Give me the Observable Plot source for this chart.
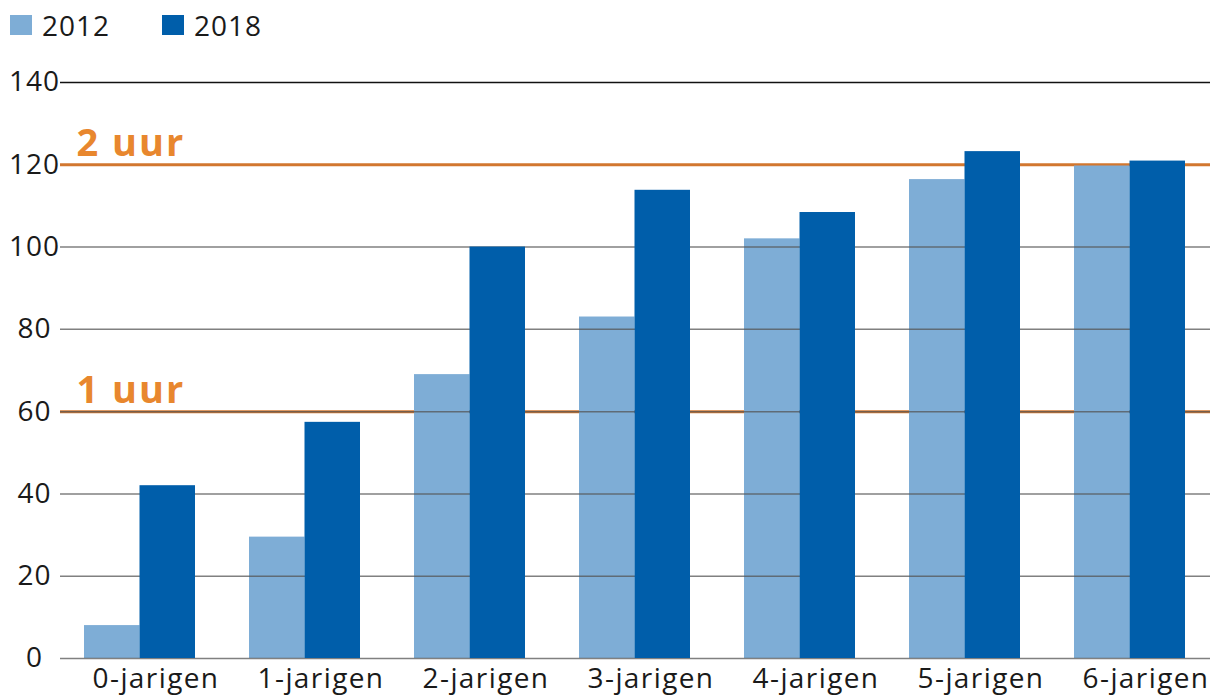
<!DOCTYPE html>
<html>
<head>
<meta charset="utf-8">
<script src="https://cdn.jsdelivr.net/npm/d3@7"></script>
<script src="https://cdn.jsdelivr.net/npm/@observablehq/plot@0.6"></script>
<style>
  html, body { margin: 0; padding: 0; background: #fff; }
  body { width: 1210px; height: 699px; overflow: hidden; font-family: "Open Sans", sans-serif; }
  #legend { height: 50px; display: flex; align-items: center; font-size: 28px; color: #1a1a1a; letter-spacing: 1px; }
  .item { display: flex; align-items: center; }
  .sw { width: 22px; height: 20px; display: inline-block; }
  svg { display: block; }
  #chart g[aria-label="x-axis tick label"] text { letter-spacing: 1.4px; }
  #chart g.reflabel text { letter-spacing: 2px; }
  #chart g.ylab text { letter-spacing: 1px; }
</style>
</head>
<body>
<div id="legend"></div>
<div id="chart"></div>
<script>
const categories = ["0-jarigen", "1-jarigen", "2-jarigen", "3-jarigen", "4-jarigen", "5-jarigen", "6-jarigen"];
const values2012 = [8, 29.5, 69, 83, 102, 116.4, 119.7];
const values2018 = [42, 57.4, 100, 113.8, 108.4, 123.2, 120.9];
const years = ["2012", "2018"];
const colors = ["#7eadd6", "#005eaa"];
const yTicks = [0, 20, 40, 60, 80, 100, 120, 140];
const refValues = [120, 60];
const refLabels = ["2 uur", "1 uur"];

const data2012 = categories.map((c, i) => ({cat: c, value: values2012[i]}));
const data2018 = categories.map((c, i) => ({cat: c, value: values2018[i]}));
const refs = refValues.map((v, i) => ({v, label: refLabels[i]}));

// legend
const legend = document.getElementById("legend");
years.forEach((y, i) => {
  const it = document.createElement("div");
  it.className = "item";
  it.style.marginLeft = i === 0 ? "10px" : "52px";
  const sw = document.createElement("span");
  sw.className = "sw";
  sw.style.background = colors[i];
  const t = document.createElement("span");
  t.textContent = y;
  t.style.marginLeft = "10px";
  it.appendChild(sw); it.appendChild(t);
  legend.appendChild(it);
});

const half = 55.5;
const chart = Plot.plot({
  width: 1210,
  height: 649,
  marginTop: 32,
  marginBottom: 41,
  marginLeft: 60,
  marginRight: 0,
  style: {fontFamily: "Open Sans, sans-serif", fontSize: "28px", color: "#1a1a1a", background: "#fff"},
  x: {domain: categories, paddingInner: 0.327, paddingOuter: 0.136, label: null},
  y: {domain: [0, 140], label: null, axis: null},
  marks: [
    Plot.ruleY(refs, {y: "v", stroke: "#d2772f", strokeWidth: 3}),
    Plot.barY(data2012, {x: "cat", y: "value", fill: colors[0], insetRight: half}),
    Plot.ruleY(yTicks.filter(d => d !== 140 && d !== 120), {y: d => d, stroke: "#555", strokeOpacity: 0.75, strokeWidth: 1.5}),
    Plot.ruleY([140], {y: d => d, stroke: "#111", strokeWidth: 1.3}),
    Plot.barY(data2018, {x: "cat", y: "value", fill: colors[1], insetLeft: half}),
    Plot.text(yTicks, {y: d => d, text: d => String(d), frameAnchor: "left", dx: -26, textAnchor: "middle", fontSize: 28, fill: "#1a1a1a", className: "ylab"}),
    Plot.text(refs, {y: "v", text: "label", frameAnchor: "left", dx: 16, dy: -9, textAnchor: "start", lineAnchor: "bottom", fontSize: 38, fontWeight: "bold", fill: "#e8872e", className: "reflabel"}),
    Plot.axisX({tickSize: 0, tickPadding: 10, fontSize: 28, dx: 16, fill: "#1a1a1a"})
  ]
});
document.getElementById("chart").appendChild(chart);
</script>
</body>
</html>
